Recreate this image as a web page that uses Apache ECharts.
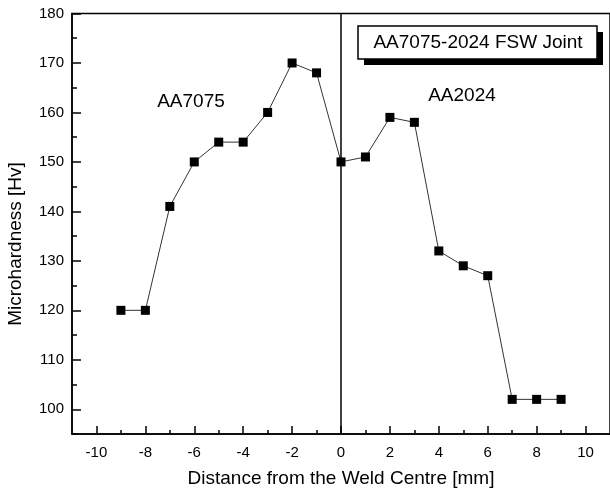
<!doctype html>
<html>
<head>
<meta charset="utf-8">
<title>Microhardness</title>
<script src="https://cdn.jsdelivr.net/npm/echarts@6/dist/echarts.min.js"></script>
<style>
body { margin: 0; background: #fff; }
#main { width: 610px; height: 495px; }
</style>
</head>
<body>
<div id="main"></div>
<script>
// distance from weld centre [mm] and hardness [Hv]
var distance = [-9, -8, -7, -6, -5, -4, -3, -2, -1, 0, 1, 2, 3, 4, 5, 6, 7, 8, 9];
var hardness = [120, 120, 141, 150, 154, 154, 160, 170, 168, 150, 151, 159, 158, 132, 129, 127, 102, 102, 102];

// long ticks / labelled values
var xMajor = [-10, -8, -6, -4, -2, 0, 2, 4, 6, 8, 10];
var yMajor = [100, 110, 120, 130, 140, 150, 160, 170, 180];

var font = 'Liberation Sans, Arial, sans-serif';
var points = distance.map(function (d, i) { return [d, hardness[i]]; });

var myChart = echarts.init(document.getElementById('main'));

var option = {
  animation: false,
  grid: {
    left: 72, top: 13.5, width: 539.5, bottom: 61,
    show: true, borderColor: '#000', borderWidth: 1.5, backgroundColor: 'transparent'
  },
  xAxis: [{
    // short ticks every 1 mm, labels only on the even ones
    type: 'value', min: -11, max: 11, interval: 1, position: 'bottom',
    axisLine: { show: true, onZero: false, lineStyle: { color: '#000', width: 1.5 } },
    axisTick: { show: true, inside: true, length: 4, lineStyle: { color: '#000', width: 1.5 } },
    axisLabel: {
      color: '#000', fontSize: 15, fontFamily: font, margin: 11, showMinLabel: false, showMaxLabel: false,
      formatter: function (v) { return xMajor.indexOf(v) >= 0 ? String(v) : ''; }
    },
    splitLine: { show: false },
    name: 'Distance from the Weld Centre [mm]', nameLocation: 'middle', nameGap: 35,
    nameTextStyle: { color: '#000', fontSize: 19, fontFamily: font }
  }, {
    // long ticks
    type: 'value', min: -11, max: 11, position: 'bottom',
    axisLine: { show: false, onZero: false },
    axisTick: { show: true, inside: true, length: 8, customValues: xMajor, lineStyle: { color: '#000', width: 1.5 } },
    axisLabel: { show: false },
    splitLine: { show: false }
  }],
  yAxis: [{
    type: 'value', min: 95, max: 180, interval: 5, position: 'left',
    axisLine: { show: true, onZero: false, lineStyle: { color: '#000', width: 1.5 } },
    axisTick: { show: true, inside: true, length: 5, lineStyle: { color: '#000', width: 1.5 } },
    axisLabel: {
      color: '#000', fontSize: 15, fontFamily: font, margin: 8,
      formatter: function (v) { return yMajor.indexOf(v) >= 0 ? String(v) : ''; }
    },
    splitLine: { show: false }
  }, {
    type: 'value', min: 95, max: 180, position: 'left',
    axisLine: { show: false, onZero: false },
    axisTick: { show: true, inside: true, length: 9, customValues: yMajor, lineStyle: { color: '#000', width: 1.5 } },
    axisLabel: { show: false },
    splitLine: { show: false }
  }],
  series: [{
    type: 'line',
    data: points,
    symbol: 'rect',
    symbolSize: 9,
    itemStyle: { color: '#000' },
    lineStyle: { color: '#333', width: 1 },
    markLine: {
      silent: true,
      symbol: 'none',
      label: { show: false },
      lineStyle: { color: '#000', width: 1.5, type: 'solid' },
      data: [{ xAxis: 0 }]
    }
  }],
  graphic: [
    { type: 'rect', shape: { x: 364, y: 32, width: 239, height: 33 }, style: { fill: '#000' } },
    { type: 'rect', shape: { x: 358, y: 26, width: 239, height: 33 }, style: { fill: '#fff', stroke: '#000', lineWidth: 1.5 } },
    { type: 'text', x: 478, y: 43, style: { text: 'AA7075-2024 FSW Joint', fill: '#000', fontSize: 19, fontFamily: font, align: 'center', verticalAlign: 'middle' } },
    { type: 'text', x: 191, y: 102, style: { text: 'AA7075', fill: '#000', fontSize: 19, fontFamily: font, align: 'center', verticalAlign: 'middle' } },
    { type: 'text', x: 462, y: 96, style: { text: 'AA2024', fill: '#000', fontSize: 19, fontFamily: font, align: 'center', verticalAlign: 'middle' } },
    { type: 'text', x: 16, y: 244, rotation: Math.PI / 2, style: { text: 'Microhardness [Hv]', fill: '#000', fontSize: 19, fontFamily: font, align: 'center', verticalAlign: 'middle' } }
  ]
};

myChart.setOption(option);
</script>
</body>
</html>
